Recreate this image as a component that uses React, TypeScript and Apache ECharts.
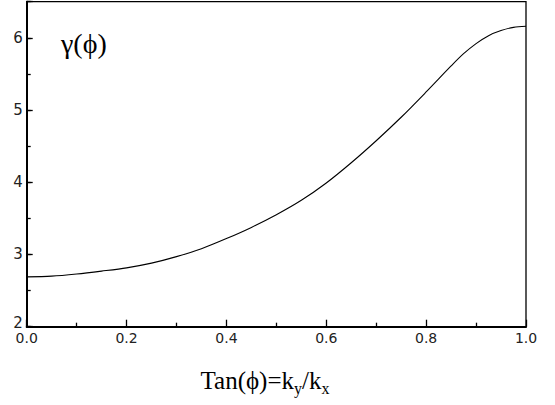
import React, { useEffect, useRef } from "react";
import * as echarts from "echarts";

const xValues = [0, 0.05, 0.1, 0.15, 0.2, 0.25, 0.3, 0.35, 0.4, 0.45, 0.5, 0.55, 0.6, 0.65, 0.7, 0.75, 0.8, 0.85, 0.875, 0.9, 0.925, 0.95, 0.975, 1.0];
const gammaValues = [2.69, 2.7, 2.73, 2.77, 2.815, 2.88, 2.97, 3.08, 3.22, 3.375, 3.55, 3.75, 3.99, 4.27, 4.575, 4.9, 5.25, 5.61, 5.78, 5.92, 6.03, 6.1, 6.145, 6.16];

const xTickLabels = ["0.0", "0.2", "0.4", "0.6", "0.8", "1.0"];
const yTickLabels = ["2", "3", "4", "5", "6"];

export default function App() {
  const ref = useRef<HTMLDivElement>(null);
  useEffect(() => {
    if (!ref.current) return;
    const chart = echarts.init(ref.current, undefined, { renderer: "svg" });
    const seriesData = xValues.map((x, i) => [x, gammaValues[i]]);
    const axisColor = "#000";
    chart.setOption({
      animation: false,
      backgroundColor: "#fff",
      grid: {
        left: 26.7,
        right: 29,
        top: 1.7,
        bottom: 78.3,
        show: true,
        borderColor: axisColor,
        borderWidth: 1.3,
        backgroundColor: "transparent",
      },
      xAxis: {
        type: "value",
        min: 0,
        max: 1,
        interval: 0.2,
        axisLine: { show: true, onZero: false, lineStyle: { color: axisColor, width: 2 } },
        axisTick: { show: true, inside: true, length: 7, lineStyle: { color: axisColor, width: 1.3 } },
        minorTick: { show: true, splitNumber: 2, length: 4, lineStyle: { color: axisColor, width: 1.3 } },
        splitLine: { show: false },
        minorSplitLine: { show: false },
        axisLabel: {
          margin: 4,
          color: "#222",
          fontFamily: "DejaVu Sans",
          fontSize: 14,
          formatter: (v: number) => {
            const idx = Math.round(v / 0.2);
            return xTickLabels[idx] ?? "";
          },
        },
      },
      yAxis: [
        {
          type: "value",
          min: 2,
          max: 6.5,
          interval: 1,
          axisLine: { show: true, onZero: false, lineStyle: { color: axisColor, width: 2 } },
          axisTick: { show: true, inside: true, length: 6, lineStyle: { color: axisColor, width: 1.3 } },
          splitLine: { show: false },
          axisLabel: {
            margin: 4,
            color: "#222",
            fontFamily: "DejaVu Sans",
            fontSize: 15,
            formatter: (v: number) => {
              const idx = Math.round(v - 2);
              if (Math.abs(v - Math.round(v)) > 1e-6) return "";
              const t = yTickLabels[idx] ?? "";
              return idx === 0 ? "{low|" + t + "}" : t;
            },
            rich: {
              low: { padding: [0, 0, 8, 0], fontFamily: "DejaVu Sans", fontSize: 15, color: "#222" },
            },
          },
        },
        {
          type: "value",
          min: 2,
          max: 6.5,
          interval: 0.5,
          position: "left",
          axisLine: { show: false },
          axisTick: { show: true, inside: true, length: 4, lineStyle: { color: axisColor, width: 1.3 } },
          axisLabel: { show: false },
          splitLine: { show: false },
        },
      ],
      series: [
        {
          type: "line",
          data: seriesData,
          yAxisIndex: 0,
          smooth: 0.3,
          showSymbol: false,
          symbol: "none",
          lineStyle: { color: "#000", width: 1.1 },
        },
      ],
      graphic: [
        {
          type: "text",
          left: 61,
          top: 29,
          style: {
            text: "γ(ϕ)",
            font: "28px 'Liberation Serif'",
            fill: "#000",
          },
        },
        {
          type: "text",
          x: 265,
          y: 365,
          style: {
            text: "Tan(ϕ)=k{s|y}/k{s|x}",
            font: "25px 'Liberation Serif'",
            fill: "#000",
            align: "center",
            rich: {
              s: { fontSize: 16, fontFamily: "Liberation Serif", padding: [15, 0, 0, 0], fill: "#000" },
            },
          },
        },
      ],
    });
    return () => chart.dispose();
  }, []);
  return <div ref={ref} style={{ width: 555, height: 405, position: "absolute", left: 0, top: 0 }} />;
}
